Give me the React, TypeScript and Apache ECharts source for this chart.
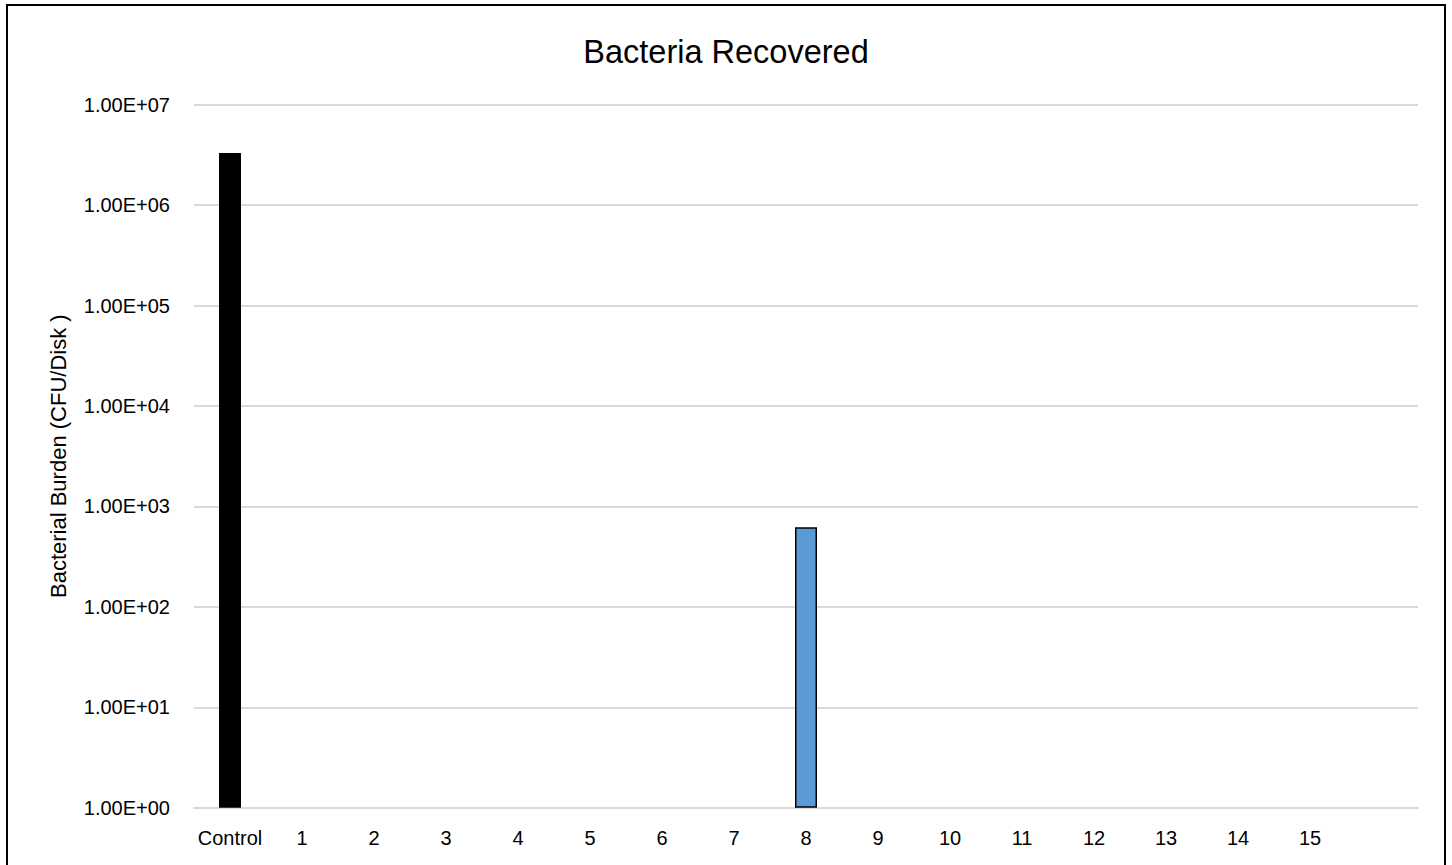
import React, { useEffect, useRef } from "react";
import * as echarts from "echarts";

const categories = ["Control", "1", "2", "3", "4", "5", "6", "7", "8", "9", "10", "11", "12", "13", "14", "15", ""];
const values: (number | null)[] = [3.3e6, null, null, null, null, null, null, null, 620, null, null, null, null, null, null, null, null];
const barColors = ["#000000", "#5b9bd5", "#5b9bd5", "#5b9bd5", "#5b9bd5", "#5b9bd5", "#5b9bd5", "#5b9bd5", "#5b9bd5", "#5b9bd5", "#5b9bd5", "#5b9bd5", "#5b9bd5", "#5b9bd5", "#5b9bd5", "#5b9bd5", "#5b9bd5"];
const yMin = 1;
const yMax = 1e7;
const title = "Bacteria Recovered";
const yAxisTitle = "Bacterial Burden (CFU/Disk )";

function fmtSci(v: number): string {
  const s = v.toExponential(2).toUpperCase(); // e.g. 1.00E+7
  const m = s.match(/^(.*)E([+-])(\d+)$/);
  if (!m) return s;
  return `${m[1]}E${m[2]}${m[3].padStart(2, "0")}`;
}

export default function App() {
  const ref = useRef<HTMLDivElement>(null);
  useEffect(() => {
    if (!ref.current) return;
    const chart = echarts.init(ref.current, undefined, { renderer: "svg" });
    const font = "'Liberation Sans', Arial, sans-serif";
    chart.setOption({
      animation: false,
      backgroundColor: "#ffffff",
      textStyle: { fontFamily: font },
      title: {
        text: title,
        left: "center",
        top: 30,
        textStyle: { fontFamily: font, fontSize: 32.5, fontWeight: "normal", color: "#000" },
      },
      graphic: [
        {
          type: "rect",
          shape: { x: 7, y: 5, width: 1438, height: 900 },
          style: { fill: "none", stroke: "#000", lineWidth: 2 },
          silent: true,
        },
      ],
      grid: { left: 194, right: 34, top: 104.7, bottom: 57.3, containLabel: false },
      xAxis: {
        type: "category",
        data: categories,
        axisLine: { show: true, lineStyle: { color: "#d9d9d9", width: 2 } },
        axisTick: { show: false },
        axisLabel: { color: "#000", fontSize: 20, fontFamily: font, margin: 20, interval: 0 },
        splitLine: { show: false },
      },
      yAxis: {
        type: "log",
        logBase: 10,
        min: yMin,
        max: yMax,
        interval: 1,
        name: yAxisTitle,
        nameLocation: "middle",
        nameRotate: 90,
        nameGap: 125,
        nameTextStyle: { fontFamily: font, fontSize: 22, color: "#000" },
        axisLine: { show: false },
        axisTick: { show: false },
        axisLabel: { color: "#000", fontSize: 20, fontFamily: font, margin: 24, formatter: (v: number) => fmtSci(v) },
        splitLine: { show: true, lineStyle: { color: "#d9d9d9", width: 2 } },
      },
      series: [
        {
          type: "bar",
          barWidth: 22,
          data: values.map((v, i) => ({
            value: v,
            itemStyle: {
              color: barColors[i],
              borderColor: "#000",
              borderWidth: i === 0 ? 0 : 1.5,
            },
          })),
        },
      ],
    });
    return () => chart.dispose();
  }, []);
  return (
    <div
      ref={ref}
      style={{ position: "fixed", left: 0, top: 0, width: 1452, height: 865, background: "#fff" }}
    />
  );
}
